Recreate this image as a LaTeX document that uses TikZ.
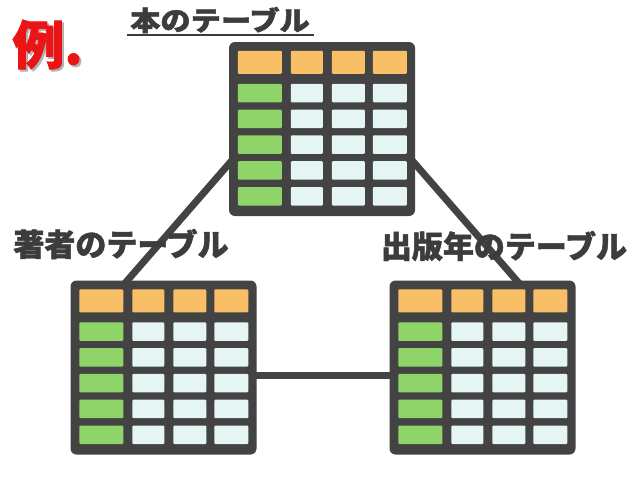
\documentclass[tikz,border=0pt]{standalone}
\usepackage{fontspec}
\newfontfamily\jpfont{Noto Sans CJK JP}[BoldFeatures={FakeBold=1.5}]
\usetikzlibrary{positioning, backgrounds}

\definecolor{framegray}{HTML}{434343}
\definecolor{headcell}{HTML}{F8BF67}
\definecolor{keycell}{HTML}{8FD469}
\definecolor{datacell}{HTML}{E5F5F4}
\definecolor{titlegray}{HTML}{3C3C3C}
\definecolor{reired}{HTML}{EC1515}

% cells of one table, placed from the frame's top left corner
\newcommand{\tablecells}[1]{%
  \foreach \cx/\cw [count=\ci] in {9/44,62/32,103/33,144/34}{
    \ifnum\ci=1 \def\rowcol{keycell}\else\def\rowcol{datacell}\fi
    \fill[headcell, rounded corners=1pt] ([shift={(\cx,9)}]#1.north west) rectangle ++(\cw,23);
    \foreach \ry in {42,67.8,93.6,119.4,145.2}
      \fill[\rowcol, rounded corners=1pt] ([shift={(\cx,\ry)}]#1.north west) rectangle ++(\cw,18.5);
  }}

\begin{document}
\begin{tikzpicture}[x=1pt, y=-1pt,
  tbl/.style={fill=framegray, rounded corners=6pt, minimum width=186pt, minimum height=174pt, inner sep=0pt},
  link/.style={draw=framegray, line width=7pt, shorten <=-12pt, shorten >=-12pt},
  lbl/.style={inner sep=0pt, text=titlegray, font=\jpfont\bfseries\fontsize{31}{31}\selectfont}]
\useasboundingbox (0,0) rectangle (644,483);

% Tabellen
\node[tbl] (book) at (322,129) {};
\node[tbl] (author) at (163.5,367.5) {};
\node[tbl] (pub) at (482.5,367.5) {};

% Verbindungen
\begin{scope}[on background layer]
\draw[link] ([yshift=-35pt]book.west) -- ([xshift=-36pt]author.north);
\draw[link] ([yshift=-35pt]book.east) -- ([xshift=34pt]pub.north);
\draw[link] ([yshift=-7.5pt]author.east) -- ([yshift=-7.5pt]pub.west);
\end{scope}

\tablecells{book}
\tablecells{author}
\tablecells{pub}

% Beschriftungen
\node[lbl, font=\jpfont\bfseries\fontsize{27}{27}\selectfont, xscale=1.12] (booklbl) at (220,20) {本のテーブル};
\draw[titlegray, line width=2pt] (127,35) -- (314,35);
\node[lbl] (authorlbl) at (121,244) {著者のテーブル};
\node[lbl] (publbl) at (504,246) {出版年のテーブル};

% Beispiel
\node[inner sep=0pt, text=black!30, font=\jpfont\bfseries\fontsize{52}{52}\selectfont] at (49.5,46.5) {例.};
\node[inner sep=0pt, text=reired, font=\jpfont\bfseries\fontsize{52}{52}\selectfont] (rei) at (47.5,44.5) {例.};
\end{tikzpicture}
\end{document}
